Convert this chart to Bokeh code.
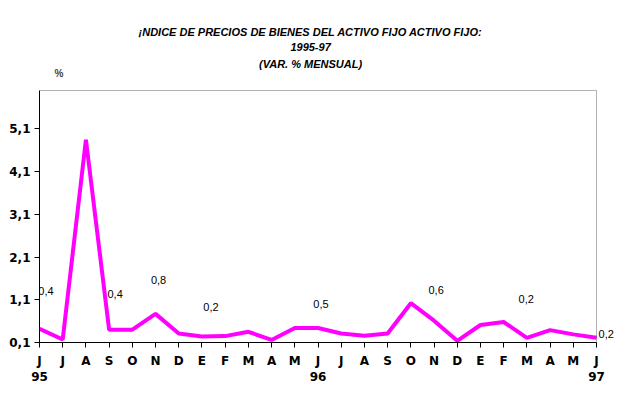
from bokeh.plotting import figure
from bokeh.models import ColumnDataSource, LabelSet, Label, FixedTicker, Range1d, BoxAnnotation
from bokeh.core.properties import value
from bokeh.embed import file_html
from bokeh.resources import INLINE

months = ["J", "J", "A", "S", "O", "N", "D", "E", "F", "M", "A", "M",
          "J", "J", "A", "S", "O", "N", "D", "E", "F", "M", "A", "M", "J"]
years = {0: "95", 12: "96", 24: "97"}
values = [0.42, 0.17, 4.85, 0.40, 0.40, 0.77, 0.31, 0.24, 0.25, 0.35, 0.16, 0.44,
          0.44, 0.31, 0.26, 0.31, 1.02, 0.61, 0.14, 0.51, 0.58, 0.21, 0.39, 0.29, 0.21]
y_ticks = [0.1, 1.1, 2.1, 3.1, 4.1, 5.1]
label_text = ["0,4", "0,4", "0,8", "0,2", "0,5", "0,6", "0,2", "0,2"]
label_x = [0.28, 3.26, 5.13, 7.39, 12.13, 17.09, 20.97, 24.42]
label_y = [1.31, 1.24, 1.57, 0.94, 1.01, 1.34, 1.13, 0.31]
title_lines = ["¡NDICE DE PRECIOS DE BIENES DEL ACTIVO FIJO ACTIVO FIJO:", "1995-97", "(VAR. % MENSUAL)"]
title_y = [7.38, 7.01, 6.63]

x = list(range(len(values)))
y_lo, y_hi = 0.1, 6.0

p = figure(frame_width=581, frame_height=322, output_backend="svg", toolbar_location=None,
           x_range=Range1d(0, 25.034), y_range=Range1d(0.1, 7.639),
           min_border_left=39, min_border_right=8, min_border_top=20, min_border_bottom=43)
p.background_fill_color = "white"
p.border_fill_color = "white"
p.outline_line_color = None
p.grid.visible = False

p.add_layout(BoxAnnotation(left=0, right=24, bottom=y_lo, top=y_hi, fill_color=None,
                           line_color="black", line_width=1))

p.line(x, values, line_color="#FF00FF", line_width=4)

src = ColumnDataSource(dict(x=label_x, y=label_y, t=label_text))
p.add_layout(LabelSet(x="x", y="y", text="t", source=src, text_align="center",
                      text_baseline="middle", text_font=value("Liberation Sans"),
                      text_font_size="11px", text_color="black"))
for t, ty in zip(title_lines, title_y):
    p.add_layout(Label(x=11.68, y=ty, text=t, text_align="center", text_baseline="middle",
                       text_font="Liberation Sans", text_font_size="11px",
                       text_font_style="bold italic", text_color="black"))
p.add_layout(Label(x=0.84, y=6.39, text="%", text_align="center", text_baseline="middle",
                   text_font="Liberation Sans", text_font_size="10px", text_font_style="bold"))

p.xaxis.ticker = FixedTicker(ticks=x)
p.xaxis.bounds = (0, 24)
p.xaxis.major_label_overrides = {i: (m + ("\n" + years[i] if i in years else "")) for i, m in enumerate(months)}
p.yaxis.ticker = FixedTicker(ticks=y_ticks)
p.yaxis.bounds = (y_lo, y_hi)
p.yaxis.major_label_overrides = {v: f"{v:.1f}".replace(".", ",") for v in y_ticks}
for ax in (p.xaxis, p.yaxis):
    ax.major_label_text_font = "DejaVu Sans"
    ax.major_label_text_font_size = "12px"
    ax.major_label_text_font_style = "bold"
    ax.major_label_text_color = "black"
    ax.axis_line_color = "black"
    ax.major_tick_line_color = "black"
    ax.minor_tick_line_color = None
    ax.major_tick_in = 0
    ax.major_tick_out = 5
p.xaxis.major_label_standoff = 6
p.yaxis.major_label_standoff = 4

open("out.html", "w").write(file_html(p, INLINE))
